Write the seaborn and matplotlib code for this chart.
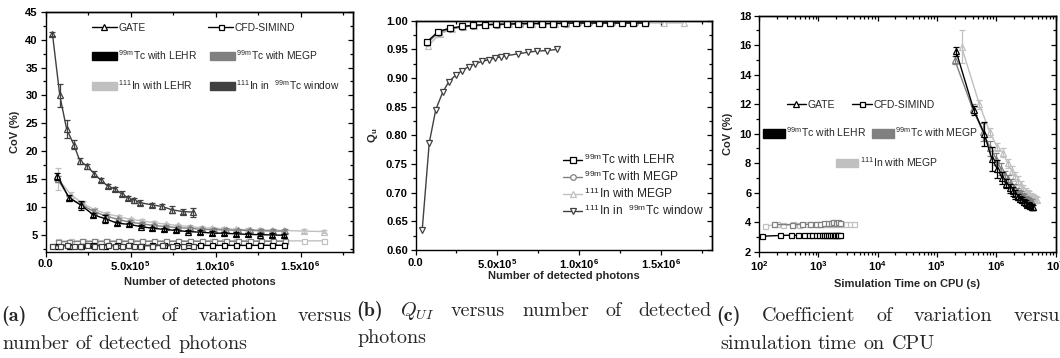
import matplotlib
matplotlib.use("Agg")
import matplotlib.pyplot as plt
import seaborn as sns
from matplotlib.lines import Line2D
from matplotlib.patches import Patch
from matplotlib.legend import Legend
from matplotlib.ticker import FixedLocator, MultipleLocator, LogLocator, NullFormatter

sns.set_style("ticks")
plt.rcParams["font.family"] = ["Liberation Sans", "DejaVu Sans"]
plt.rcParams["mathtext.fontset"] = "custom"
plt.rcParams["mathtext.rm"] = "Liberation Sans"
plt.rcParams["mathtext.bf"] = "Liberation Sans:bold"
plt.rcParams["mathtext.it"] = "cmmi10"
plt.rcParams["axes.linewidth"] = 1.0
plt.rcParams["axes.edgecolor"] = "black"

# ---------------- data: CoV vs number of detected photons ----------------
n_win = [4.1e4, 8.4e4, 1.24e5, 1.66e5, 2.02e5, 2.45e5, 2.86e5, 3.25e5, 3.65e5, 4.08e5,
         4.47e5, 4.86e5, 5.21e5, 5.55e5, 6.24e5, 6.86e5, 7.45e5, 8.06e5, 8.65e5]
cov_win_gate = [41.0, 30.0, 24.0, 21.2, 18.3, 17.3, 16.0, 14.8, 13.8, 13.2,
                12.4, 11.6, 11.2, 10.8, 10.4, 10.1, 9.5, 9.2, 9.1]
err_win_gate = [0.4, 2.0, 1.6, 0.8, 0.5, 0.5, 0.5, 0.4, 0.4, 0.4,
                0.4, 0.4, 0.4, 0.4, 0.4, 0.5, 0.6, 0.5, 0.8]
cov_win_cfd = [3.0, 3.1, 3.2, 3.1, 3.1, 3.15, 3.1, 3.1, 3.15, 3.1,
               3.1, 3.15, 3.1, 3.1, 3.1, 3.15, 3.1, 3.1, 3.1]

n_tc_lehr = [7.0e4, 1.38e5, 2.10e5, 2.82e5, 3.52e5, 4.22e5, 4.90e5, 5.60e5, 6.28e5, 6.98e5,
             7.70e5, 8.40e5, 9.10e5, 9.80e5, 1.05e6, 1.12e6, 1.19e6, 1.26e6, 1.33e6, 1.40e6]
cov_tc_lehr_gate = [15.5, 11.7, 10.3, 8.6, 7.9, 7.1, 6.9, 6.5, 6.2, 6.0,
                    5.8, 5.6, 5.5, 5.35, 5.3, 5.2, 5.1, 5.05, 5.0, 4.95]
err_tc_lehr_gate = [0.6, 0.5, 0.8, 0.4, 0.7, 0.3, 0.3, 0.3, 0.3, 0.3,
                    0.3, 0.3, 0.3, 0.3, 0.3, 0.3, 0.3, 0.3, 0.3, 0.3]
cov_tc_lehr_cfd = [3.05, 3.1, 3.1, 3.12, 3.1, 3.12, 3.13, 3.1, 3.12, 3.13,
                   3.12, 3.14, 3.13, 3.12, 3.14, 3.13, 3.12, 3.14, 3.15, 3.15]

n_tc_megp = [7.1e4, 1.41e5, 2.12e5, 2.83e5, 3.54e5, 4.24e5, 4.95e5, 5.66e5, 6.36e5, 7.07e5,
             7.78e5, 8.49e5, 9.19e5, 9.90e5, 1.06e6, 1.13e6, 1.20e6, 1.27e6, 1.34e6, 1.41e6]
cov_tc_megp_gate = [15.0, 11.6, 10.4, 9.2, 8.4, 7.8, 7.3, 7.0, 6.7, 6.5,
                    6.3, 6.2, 6.0, 5.95, 5.9, 5.85, 5.8, 5.75, 5.7, 5.7]
err_tc_megp_gate = [0.5, 0.4, 0.5, 0.4, 0.4, 0.3, 0.3, 0.3, 0.3, 0.3,
                    0.3, 0.3, 0.3, 0.3, 0.3, 0.3, 0.3, 0.3, 0.3, 0.3]
cov_tc_megp_cfd = [3.8, 3.82, 3.85, 3.83, 3.85, 3.84, 3.86, 3.85, 3.86, 3.85,
                   3.87, 3.86, 3.86, 3.87, 3.86, 3.87, 3.88, 3.87, 3.88, 3.88]

n_in = [7.6e4, 1.50e5, 2.20e5, 2.90e5, 3.60e5, 4.30e5, 5.00e5, 5.70e5, 6.40e5, 7.10e5, 7.80e5,
        8.50e5, 9.20e5, 9.80e5, 1.05e6, 1.12e6, 1.19e6, 1.26e6, 1.33e6, 1.40e6, 1.52e6, 1.64e6]
cov_in_gate = [15.0, 12.2, 10.6, 9.5, 8.8, 8.3, 7.8, 7.5, 7.2, 6.9, 6.7,
               6.5, 6.3, 6.2, 6.1, 6.0, 5.95, 5.9, 5.85, 5.8, 5.7, 5.6]
err_in_gate = [2.0, 0.5, 0.4, 0.4, 0.3, 0.3, 0.3, 0.3, 0.3, 0.3, 0.3,
               0.3, 0.3, 0.3, 0.3, 0.3, 0.3, 0.3, 0.3, 0.3, 0.3, 0.3]
cov_in_cfd = [3.85, 3.9, 3.88, 3.9, 3.9, 3.92, 3.9, 3.91, 3.9, 3.92, 3.91,
              3.92, 3.92, 3.93, 3.92, 3.93, 3.93, 3.92, 3.93, 3.94, 3.94, 3.95]

# ---------------- data: uniformity index vs number of detected photons ----------------
q_tc_lehr = [0.963, 0.981, 0.987, 0.990, 0.992, 0.993, 0.994, 0.994, 0.995, 0.995,
             0.995, 0.995, 0.996, 0.996, 0.996, 0.996, 0.996, 0.996, 0.996, 0.996]
q_tc_megp = [0.961, 0.979, 0.986, 0.989, 0.991, 0.993, 0.993, 0.994, 0.994, 0.995,
             0.995, 0.995, 0.995, 0.996, 0.996, 0.996, 0.996, 0.996, 0.996, 0.996]
q_in_megp = [0.956, 0.977, 0.985, 0.989, 0.991, 0.992, 0.993, 0.994, 0.994, 0.995, 0.995,
             0.995, 0.995, 0.996, 0.996, 0.996, 0.996, 0.996, 0.996, 0.996, 0.996, 0.996]
q_win = [0.635, 0.787, 0.845, 0.875, 0.893, 0.905, 0.913, 0.920, 0.925, 0.929,
         0.932, 0.935, 0.937, 0.939, 0.942, 0.945, 0.947, 0.948, 0.950]

# ---------------- data: CoV vs simulation time on CPU ----------------
t_tc_lehr_gate = [2.1e5, 4.2e5, 6.3e5, 8.4e5, 1.05e6, 1.26e6, 1.47e6, 1.68e6, 1.89e6, 2.1e6,
                  2.31e6, 2.52e6, 2.73e6, 2.94e6, 3.15e6, 3.36e6, 3.57e6, 3.78e6, 3.99e6, 4.2e6]
cpu_tc_lehr_gate = [15.6, 11.6, 10.0, 8.3, 7.6, 7.0, 6.6, 6.3, 6.1, 5.9,
                    5.7, 5.6, 5.5, 5.4, 5.3, 5.2, 5.15, 5.1, 5.05, 5.0]
cpu_err_tc_lehr = [0.3, 0.3, 0.8, 0.8, 0.6, 0.4, 0.3, 0.3, 0.3, 0.3,
                   0.2, 0.2, 0.2, 0.2, 0.2, 0.2, 0.2, 0.2, 0.2, 0.2]
t_tc_megp_gate = [2.0e5, 4.0e5, 6.0e5, 8.0e5, 1.0e6, 1.2e6, 1.4e6, 1.6e6, 1.8e6, 2.0e6,
                  2.2e6, 2.4e6, 2.6e6, 2.8e6, 3.0e6, 3.2e6, 3.4e6, 3.6e6, 3.8e6, 4.0e6]
cpu_tc_megp_gate = [15.0, 11.7, 10.1, 9.0, 8.3, 7.6, 7.2, 6.9, 6.6, 6.3,
                    6.1, 6.0, 5.9, 5.8, 5.7, 5.6, 5.5, 5.45, 5.4, 5.35]
cpu_err_tc_megp = [0.3, 0.3, 0.6, 0.5, 0.4, 0.4, 0.3, 0.3, 0.3, 0.3,
                   0.2, 0.2, 0.2, 0.2, 0.2, 0.2, 0.2, 0.2, 0.2, 0.2]
t_in_megp_gate = [2.6e5, 5.2e5, 7.8e5, 1.04e6, 1.3e6, 1.56e6, 1.82e6, 2.08e6, 2.34e6, 2.6e6,
                  2.86e6, 3.12e6, 3.38e6, 3.64e6, 3.9e6, 4.16e6, 4.42e6, 4.68e6, 4.94e6]
cpu_in_megp_gate = [15.9, 12.0, 10.1, 9.1, 8.7, 8.0, 7.5, 7.1, 6.8, 6.5,
                    6.3, 6.1, 6.0, 5.9, 5.8, 5.7, 5.65, 5.6, 5.5]
cpu_err_in_megp = [1.1, 0.3, 0.3, 0.3, 0.3, 0.3, 0.3, 0.3, 0.3, 0.3,
                   0.2, 0.2, 0.2, 0.2, 0.2, 0.2, 0.2, 0.2, 0.2]

t_tc_lehr_cfd = [114, 228, 342, 456, 570, 684, 798, 912, 1026, 1140,
                 1254, 1368, 1482, 1596, 1710, 1824, 1938, 2052, 2166, 2280]
cpu_tc_lehr_cfd = [3.05, 3.1, 3.12, 3.1, 3.12, 3.13, 3.12, 3.14, 3.13, 3.12,
                   3.14, 3.13, 3.12, 3.14, 3.15, 3.13, 3.15, 3.14, 3.15, 3.15]
t_tc_megp_cfd = [180, 360, 540, 720, 900, 1080, 1260, 1440, 1620, 1800, 1980, 2160, 2340]
cpu_tc_megp_cfd = [3.85, 3.83, 3.86, 3.85, 3.87, 3.9, 3.92, 3.95, 3.97, 3.98, 3.97, 3.98, 3.97]
t_in_megp_cfd = [125, 200, 250, 380, 480, 650, 800, 950, 1100, 1250,
                 1400, 1550, 1700, 1850, 2000, 2200, 2500, 2900, 3400, 3950]
cpu_in_megp_cfd = [3.72, 3.85, 3.82, 3.85, 3.83, 3.85, 3.87, 3.86, 3.87, 3.88,
                   3.87, 3.88, 3.88, 3.89, 3.88, 3.89, 3.9, 3.89, 3.9, 3.88]

# ---------------- styling ----------------
BLACK, GRAY, LIGHT, DARK = "#000000", "#808080", "#c0c0c0", "#404040"
TICK_FS = 8.0

W, H = 1060, 358
fig = plt.figure(figsize=(W / 100, H / 100), dpi=100)


def px_axes(left, top, right, bottom):
    return fig.add_axes([left / W, 1 - bottom / H, (right - left) / W, (bottom - top) / H])


ax_a = px_axes(45.5, 11.7, 353.3, 251.7)
ax_b = px_axes(415.5, 20.7, 711.7, 250.0)
ax_c = px_axes(759.0, 15.7, 1055.5, 251.7)


def series(ax, x, y, color, marker, ms, err=None, lw=1.0, z=2):
    sns.lineplot(x=x, y=y, ax=ax, color=color, marker=marker, markersize=ms,
                 markerfacecolor="white", markeredgecolor=color, markeredgewidth=0.9,
                 linewidth=lw, estimator=None, sort=False, legend=False, zorder=z)
    if err is not None:
        ax.errorbar(x, y, yerr=err, fmt="none", ecolor=color, elinewidth=0.9,
                    capsize=2.2, capthick=0.9, zorder=z)


def frame(ax, xmaj, xmin, ymaj, ymin, log=False):
    ax.tick_params(which="both", direction="out", top=False, right=False,
                   width=0.9, colors="black", labelsize=TICK_FS, pad=2)
    ax.tick_params(which="major", length=3.5)
    ax.tick_params(which="minor", length=2)
    for sp in ax.spines.values():
        sp.set_visible(True)
        sp.set_linewidth(1.0)
    top = ax.secondary_xaxis("top")
    right = ax.secondary_yaxis("right")
    if log:
        top.xaxis.set_major_locator(LogLocator(base=10))
        top.xaxis.set_minor_locator(LogLocator(base=10, subs=range(2, 10)))
    else:
        top.xaxis.set_major_locator(FixedLocator(xmaj))
        top.xaxis.set_minor_locator(MultipleLocator(xmin))
    right.yaxis.set_major_locator(FixedLocator(ymaj))
    right.yaxis.set_minor_locator(MultipleLocator(ymin))
    for sec in (top, right):
        sec.tick_params(which="both", direction="in", labeltop=False, labelright=False,
                        width=0.9, colors="black")
        sec.tick_params(which="major", length=3.5)
        sec.tick_params(which="minor", length=2)
        sec.xaxis.set_minor_formatter(NullFormatter())
        sec.yaxis.set_minor_formatter(NullFormatter())


def legend_entry(ax, handle, label, x, y, fs, hl, hh):
    leg = Legend(ax, [handle], [label], loc="center left", bbox_to_anchor=(x, y),
                 frameon=False, fontsize=fs, borderpad=0, borderaxespad=0,
                 handlelength=hl, handleheight=hh, handletextpad=0.15)
    ax.add_artist(leg)


def patch(color):
    return Patch(facecolor=color, edgecolor=color)


def marker_line(m, ms):
    return Line2D([], [], color="black", lw=1.0, marker=m, markersize=ms,
                  markerfacecolor="white", markeredgecolor="black", markeredgewidth=0.9)


photon_ticks = [0, 5e5, 1e6, 1.5e6]
photon_labels = ["0.0", r"5.0x10$^{\mathbf{5}}$", r"1.0x10$^{\mathbf{6}}$", r"1.5x10$^{\mathbf{6}}$"]

# ---------------- (a) CoV vs detected photons ----------------
ax = ax_a
for x, g, e, c, col in [(n_in, cov_in_gate, err_in_gate, cov_in_cfd, LIGHT),
                        (n_tc_megp, cov_tc_megp_gate, err_tc_megp_gate, cov_tc_megp_cfd, GRAY),
                        (n_tc_lehr, cov_tc_lehr_gate, err_tc_lehr_gate, cov_tc_lehr_cfd, BLACK),
                        (n_win, cov_win_gate, err_win_gate, cov_win_cfd, DARK)]:
    series(ax, x, c, col, "s", 3.6)
    series(ax, x, g, col, "^", 5.0, err=e)
ax.set_xlim(0, 1.81e6)
ax.set_ylim(2, 45)
ax.set_xticks(photon_ticks, photon_labels, fontweight="bold")
ax.set_yticks([5, 10, 15, 20, 25, 30, 35, 40, 45],
              ["5", "10", "15", "20", "25", "30", "35", "40", "45"], fontweight="bold")
ax.xaxis.set_minor_locator(MultipleLocator(2.5e5))
ax.yaxis.set_minor_locator(MultipleLocator(2.5))
frame(ax, photon_ticks, 2.5e5, [5, 10, 15, 20, 25, 30, 35, 40, 45], 2.5)
ax.set_xlabel("Number of detected photons", fontsize=TICK_FS, fontweight="bold", labelpad=3)
ax.set_ylabel("CoV (%)", fontsize=TICK_FS, fontweight="bold", labelpad=4)

FA = 7.4
legend_entry(ax, marker_line("^", 5.0), "GATE", 0.151, 0.932, FA, 2.4, 0.8)
legend_entry(ax, marker_line("s", 3.6), "CFD-SIMIND", 0.529, 0.932, FA, 2.4, 0.8)
legend_entry(ax, patch(BLACK), r"$^{\mathrm{99m}}$Tc with LEHR", 0.151, 0.82, FA, 2.4, 0.8)
legend_entry(ax, patch(GRAY), r"$^{\mathrm{99m}}$Tc with MEGP", 0.534, 0.82, FA, 2.4, 0.8)
legend_entry(ax, patch(LIGHT), r"$^{\mathrm{111}}$In with LEHR", 0.151, 0.695, FA, 2.4, 0.8)
legend_entry(ax, patch(DARK), r"$^{\mathrm{111}}$In in  $^{\mathrm{99m}}$Tc window", 0.534, 0.695,
             FA, 2.4, 0.8)

# ---------------- (b) uniformity index ----------------
ax = ax_b
hb = []
for x, q, col, m, ms, lab in [(n_in, q_in_megp, LIGHT, "^", 4.6, r"$^{\mathrm{111}}$In with MEGP"),
                              (n_tc_megp, q_tc_megp, GRAY, "o", 4.0, r"$^{\mathrm{99m}}$Tc with MEGP"),
                              (n_tc_lehr, q_tc_lehr, BLACK, "s", 3.8, r"$^{\mathrm{99m}}$Tc with LEHR"),
                              (n_win, q_win, DARK, "v", 4.6, r"$^{\mathrm{111}}$In in  $^{\mathrm{99m}}$Tc window")]:
    series(ax, x, q, col, m, ms)
    hb.append((Line2D([], [], color=col, lw=1.0, marker=m, markersize=ms, markerfacecolor="white",
                      markeredgecolor=col, markeredgewidth=0.9), lab))
ax.set_xlim(0, 1.81e6)
ax.set_ylim(0.6, 1.0)
ax.set_xticks(photon_ticks, photon_labels, fontweight="bold")
qt = [0.60, 0.65, 0.70, 0.75, 0.80, 0.85, 0.90, 0.95, 1.00]
ax.set_yticks(qt, ["0.60", "0.65", "0.70", "0.75", "0.80", "0.85", "0.90", "0.95", "1.00"],
              fontweight="bold")
ax.xaxis.set_minor_locator(MultipleLocator(2.5e5))
ax.yaxis.set_minor_locator(MultipleLocator(0.025))
frame(ax, photon_ticks, 2.5e5, qt, 0.025)
ax.set_xlabel("Number of detected photons", fontsize=TICK_FS, fontweight="bold", labelpad=0)
ax.set_ylabel(r"Q$_{\mathbf{u}}$", fontsize=TICK_FS, fontweight="bold", labelpad=4)
order = [2, 1, 0, 3]
ax.legend([hb[i][0] for i in order], [hb[i][1] for i in order], loc="center left",
          bbox_to_anchor=(0.498, 0.283), frameon=False, fontsize=8.6, borderpad=0,
          borderaxespad=0, handlelength=1.6, handletextpad=0.15, labelspacing=0.18)

# ---------------- (c) CoV vs CPU time ----------------
ax = ax_c
ax.set_xscale("log")
for t, v, col in [(t_in_megp_cfd, cpu_in_megp_cfd, LIGHT),
                  (t_tc_megp_cfd, cpu_tc_megp_cfd, GRAY),
                  (t_tc_lehr_cfd, cpu_tc_lehr_cfd, BLACK)]:
    series(ax, t, v, col, "s", 3.6)
for t, v, e, col in [(t_in_megp_gate, cpu_in_megp_gate, cpu_err_in_megp, LIGHT),
                     (t_tc_megp_gate, cpu_tc_megp_gate, cpu_err_tc_megp, GRAY),
                     (t_tc_lehr_gate, cpu_tc_lehr_gate, cpu_err_tc_lehr, BLACK)]:
    series(ax, t, v, col, "^", 5.0, err=e)
ax.set_xlim(1e2, 1e7)
ax.set_ylim(2, 18)
ct = [1e2, 1e3, 1e4, 1e5, 1e6, 1e7]
ax.set_xticks(ct, [r"10$^{\mathbf{%d}}$" % k for k in range(2, 8)], fontweight="bold")
ax.xaxis.set_minor_locator(LogLocator(base=10, subs=range(2, 10)))
ax.xaxis.set_minor_formatter(NullFormatter())
yt = [2, 4, 6, 8, 10, 12, 14, 16, 18]
ax.set_yticks(yt, [str(v) for v in yt], fontweight="bold")
ax.yaxis.set_minor_locator(MultipleLocator(1))
frame(ax, ct, None, yt, 1, log=True)
ax.set_xlabel("Simulation Time on CPU (s)", fontsize=TICK_FS, fontweight="bold", labelpad=4)
ax.set_ylabel("CoV (%)", fontsize=TICK_FS, fontweight="bold", labelpad=4)

FC = 7.5
legend_entry(ax, marker_line("^", 5.0), "GATE", 0.093, 0.622, FC, 1.9, 0.95)
legend_entry(ax, marker_line("s", 3.6), "CFD-SIMIND", 0.313, 0.622, FC, 1.9, 0.95)
legend_entry(ax, patch(BLACK), r"$^{\mathrm{99m}}$Tc with LEHR", 0.0125, 0.508, FC, 2.1, 0.95)
legend_entry(ax, patch(GRAY), r"$^{\mathrm{99m}}$Tc with MEGP", 0.38, 0.508, FC, 2.1, 0.95)
legend_entry(ax, patch(LIGHT), r"$^{\mathrm{111}}$In with MEGP", 0.26, 0.381, FC, 2.1, 0.95)

# ---------------- sub-captions ----------------
renderer = fig.canvas.get_renderer()
CAP_FS = 14.5


def caption_line(words, x0, y, x1=None):
    texts = []
    for w, bold in words:
        texts.append(fig.text(0, 1 - y / H, w, fontsize=CAP_FS, va="baseline",
                              family="cmb10" if bold else "cmr10"))
    widths = [t.get_window_extent(renderer).width for t in texts]
    if x1 is None or len(texts) == 1:
        gap = 0.33 * CAP_FS * 100 / 72
    else:
        gap = (x1 - x0 - sum(widths)) / (len(texts) - 1)
    x = x0
    for t, w in zip(texts, widths):
        t.set_x(x / W)
        x += w + gap


caption_line([("(a)", True), ("Coefficient", False), ("of", False), ("variation", False),
              ("versus", False)], 1, 321, 352)
caption_line([("number", False), ("of", False), ("detected", False), ("photons", False)], 2, 349)
caption_line([("(b)", True), ("$Q_{UI}$", False), ("versus", False), ("number", False),
              ("of", False), ("detected", False)], 356, 316, 712)
caption_line([("photons", False)], 357, 343)
caption_line([("(c)", True), ("Coefficient", False), ("of", False), ("variation", False),
              ("versus", False)], 716, 321, 1068)
caption_line([("simulation", False), ("time", False), ("on", False), ("CPU", False)], 720, 349)

fig.savefig("out.png", dpi=100)
